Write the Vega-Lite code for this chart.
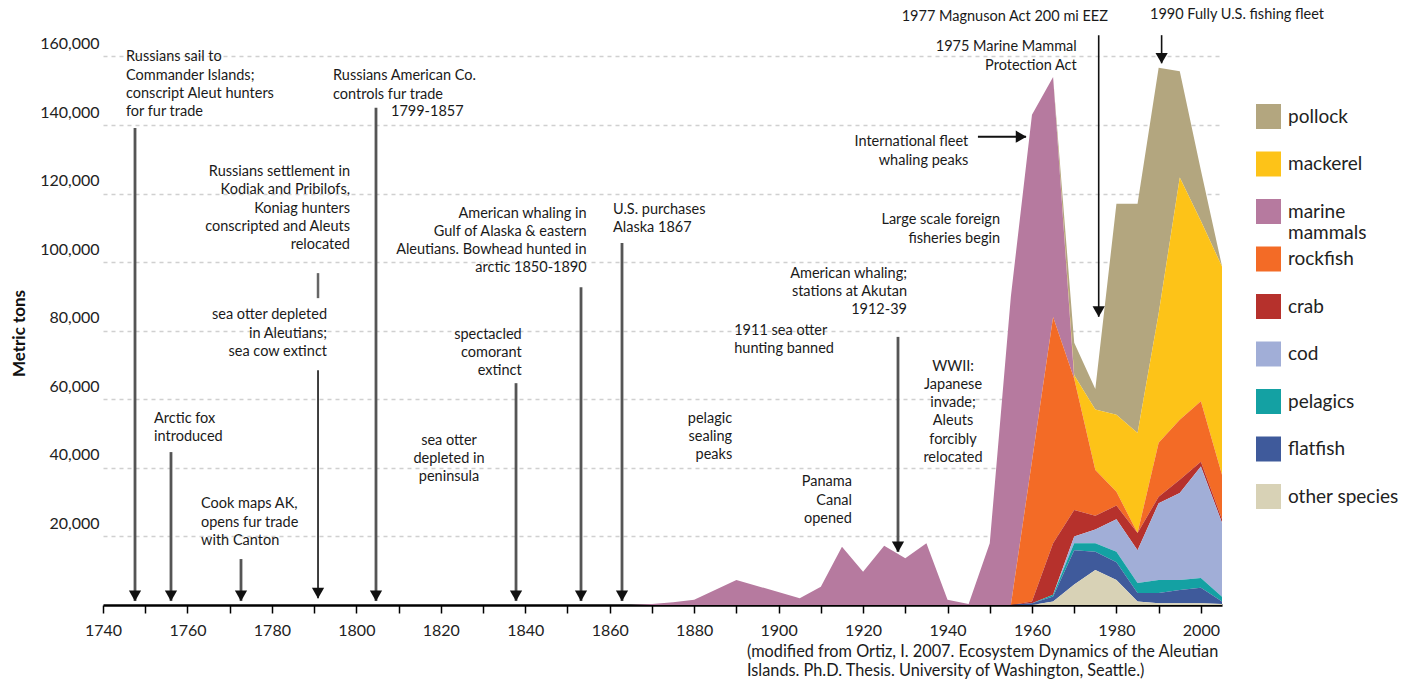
{
  "$schema": "https://vega.github.io/schema/vega-lite/v6.json",
  "width": 1119,
  "height": 600,
  "autosize": {"type": "none"},
  "padding": {"left": 103, "top": 5, "right": 199, "bottom": 83},
  "background": "white",
  "config": {"view": {"stroke": null}, "font": "Lato"},
  "datasets": {
    "catch": [
      {"year": 1740, "pollock": 0, "mackerel": 0, "marine mammals": 0, "rockfish": 0, "crab": 0, "cod": 0, "pelagics": 0, "flatfish": 0, "other species": 0},
      {"year": 1865, "pollock": 0, "mackerel": 0, "marine mammals": 0, "rockfish": 0, "crab": 0, "cod": 0, "pelagics": 0, "flatfish": 0, "other species": 0},
      {"year": 1870, "pollock": 0, "mackerel": 0, "marine mammals": 300, "rockfish": 0, "crab": 0, "cod": 0, "pelagics": 0, "flatfish": 0, "other species": 0},
      {"year": 1875, "pollock": 0, "mackerel": 0, "marine mammals": 800, "rockfish": 0, "crab": 0, "cod": 0, "pelagics": 0, "flatfish": 0, "other species": 0},
      {"year": 1880, "pollock": 0, "mackerel": 0, "marine mammals": 1500, "rockfish": 0, "crab": 0, "cod": 0, "pelagics": 0, "flatfish": 0, "other species": 0},
      {"year": 1890, "pollock": 0, "mackerel": 0, "marine mammals": 7300, "rockfish": 0, "crab": 0, "cod": 0, "pelagics": 0, "flatfish": 0, "other species": 0},
      {"year": 1905, "pollock": 0, "mackerel": 0, "marine mammals": 2000, "rockfish": 0, "crab": 0, "cod": 0, "pelagics": 0, "flatfish": 0, "other species": 0},
      {"year": 1910, "pollock": 0, "mackerel": 0, "marine mammals": 5300, "rockfish": 0, "crab": 0, "cod": 0, "pelagics": 0, "flatfish": 0, "other species": 0},
      {"year": 1915, "pollock": 0, "mackerel": 0, "marine mammals": 17000, "rockfish": 0, "crab": 0, "cod": 0, "pelagics": 0, "flatfish": 0, "other species": 0},
      {"year": 1920, "pollock": 0, "mackerel": 0, "marine mammals": 9700, "rockfish": 0, "crab": 0, "cod": 0, "pelagics": 0, "flatfish": 0, "other species": 0},
      {"year": 1925, "pollock": 0, "mackerel": 0, "marine mammals": 17300, "rockfish": 0, "crab": 0, "cod": 0, "pelagics": 0, "flatfish": 0, "other species": 0},
      {"year": 1930, "pollock": 0, "mackerel": 0, "marine mammals": 13600, "rockfish": 0, "crab": 0, "cod": 0, "pelagics": 0, "flatfish": 0, "other species": 0},
      {"year": 1935, "pollock": 0, "mackerel": 0, "marine mammals": 18000, "rockfish": 0, "crab": 0, "cod": 0, "pelagics": 0, "flatfish": 0, "other species": 0},
      {"year": 1940, "pollock": 0, "mackerel": 0, "marine mammals": 1500, "rockfish": 0, "crab": 0, "cod": 0, "pelagics": 0, "flatfish": 0, "other species": 0},
      {"year": 1945, "pollock": 0, "mackerel": 0, "marine mammals": 300, "rockfish": 0, "crab": 0, "cod": 0, "pelagics": 0, "flatfish": 0, "other species": 0},
      {"year": 1950, "pollock": 0, "mackerel": 0, "marine mammals": 18000, "rockfish": 0, "crab": 0, "cod": 0, "pelagics": 0, "flatfish": 0, "other species": 0},
      {"year": 1955, "pollock": 0, "mackerel": 0, "marine mammals": 90000, "rockfish": 0, "crab": 0, "cod": 0, "pelagics": 0, "flatfish": 0, "other species": 0},
      {"year": 1960, "pollock": 0, "mackerel": 0, "marine mammals": 101000, "rockfish": 41000, "crab": 500, "cod": 0, "pelagics": 0, "flatfish": 500, "other species": 0},
      {"year": 1965, "pollock": 0, "mackerel": 0, "marine mammals": 70000, "rockfish": 66000, "crab": 15000, "cod": 0, "pelagics": 500, "flatfish": 1500, "other species": 1000},
      {"year": 1970, "pollock": 9500, "mackerel": 1000, "marine mammals": 0, "rockfish": 38300, "crab": 7700, "cod": 2000, "pelagics": 2000, "flatfish": 10000, "other species": 6000},
      {"year": 1975, "pollock": 6000, "mackerel": 17600, "marine mammals": 0, "rockfish": 13400, "crab": 4000, "cod": 4000, "pelagics": 2500, "flatfish": 5300, "other species": 10200},
      {"year": 1980, "pollock": 61500, "mackerel": 22500, "marine mammals": 0, "rockfish": 4000, "crab": 4000, "cod": 9500, "pelagics": 3000, "flatfish": 5200, "other species": 7300},
      {"year": 1985, "pollock": 66800, "mackerel": 29200, "marine mammals": 0, "rockfish": 0, "crab": 5000, "cod": 9600, "pelagics": 2900, "flatfish": 2500, "other species": 1000},
      {"year": 1990, "pollock": 71700, "mackerel": 37700, "marine mammals": 0, "rockfish": 15700, "crab": 1900, "cod": 22400, "pelagics": 3800, "flatfish": 3000, "other species": 500},
      {"year": 1995, "pollock": 31000, "mackerel": 70700, "marine mammals": 0, "rockfish": 17500, "crab": 3800, "cod": 25400, "pelagics": 2900, "flatfish": 3900, "other species": 500},
      {"year": 2000, "pollock": 14800, "mackerel": 52600, "marine mammals": 0, "rockfish": 17600, "crab": 1400, "cod": 32500, "pelagics": 2900, "flatfish": 4500, "other species": 500},
      {"year": 2005, "pollock": 100, "mackerel": 60700, "marine mammals": 0, "rockfish": 13000, "crab": 1000, "cod": 21600, "pelagics": 1400, "flatfish": 700, "other species": 300}
    ],
    "arrowsThick": [
      {"year": 1747.58, "top": 139100, "tip": 1200},
      {"year": 1756.1, "top": 44600, "tip": 1200},
      {"year": 1772.68, "top": 13400, "tip": 1200},
      {"year": 1804.65, "top": 145000, "tip": 1200},
      {"year": 1837.81, "top": 64700, "tip": 1200},
      {"year": 1853.2, "top": 92700, "tip": 1200},
      {"year": 1862.91, "top": 105600, "tip": 1200},
      {"year": 1928.27, "top": 78200, "tip": 15500}
    ],
    "arrowsThin": [
      {"year": 1790.92, "top": 68500, "tip": 2000},
      {"year": 1975.8, "top": 166200, "tip": 84100},
      {"year": 1990.7, "top": 166200, "tip": 158000}
    ],
    "bars": [
      {"year": 1790.92, "top": 96800, "tip": 89500}
    ],
    "harrow": [
      {"from": 1947.2, "to": 1958.6, "value": 136600}
    ],
    "notesLeft": [
      {"year": 1745.45, "value": 161800, "text": "Russians sail to\nCommander Islands;\nconscript Aleut hunters\nfor fur trade"},
      {"year": 1752.08, "value": 56400, "text": "Arctic fox\nintroduced"},
      {"year": 1763.21, "value": 31400, "text": "Cook maps AK,\nopens fur trade\nwith Canton"},
      {"year": 1794.47, "value": 156200, "text": "Russians American Co.\ncontrols fur trade"},
      {"year": 1808.2, "value": 145800, "text": "1799-1857"},
      {"year": 1860.78, "value": 117200, "text": "U.S. purchases\nAlaska 1867"},
      {"year": 1889.48, "value": 82100, "text": "1911 sea otter\nhunting banned"},
      {"year": 1987.95, "value": 174000, "text": "1990 Fully U.S. fishing fleet"}
    ],
    "notesRight": [
      {"year": 1798.49, "value": 128300, "text": "Russians settlement in\nKodiak and Pribilofs,\nKoniag hunters\nconscripted and Aleuts\nrelocated"},
      {"year": 1793.05, "value": 86500, "text": "sea otter depleted\nin Aleutians;\nsea cow extinct"},
      {"year": 1854.55, "value": 116200, "text": "American whaling in\nGulf of Alaska & eastern\nAleutians. Bowhead hunted in\narctic 1850-1890"},
      {"year": 1839.15, "value": 80900, "text": "spectacled\ncomorant\nextinct"},
      {"year": 1889.0, "value": 56400, "text": "pelagic\nsealing\npeaks"},
      {"year": 1930.4, "value": 98700, "text": "American whaling;\nstations at Akutan\n1912-39"},
      {"year": 1917.35, "value": 37800, "text": "Panama\nCanal\nopened"},
      {"year": 1952.43, "value": 114200, "text": "Large scale foreign\nfisheries begin"},
      {"year": 1944.92, "value": 137000, "text": "International fleet\nwhaling peaks"},
      {"year": 1970.59, "value": 164700, "text": "1975 Marine Mammal\nProtection Act"},
      {"year": 1978.0, "value": 173400, "text": "1977 Magnuson Act 200 mi EEZ"}
    ],
    "notesCenter": [
      {"year": 1821.94, "value": 50000, "text": "sea  otter\ndepleted in\npeninsula"},
      {"year": 1941.3, "value": 71600, "text": "WWII:\nJapanese\ninvade;\nAleuts\nforcibly\nrelocated"}
    ],
    "source": [
      {"year": 1892.51, "value": -11500, "text": "(modified from Ortiz, I. 2007. Ecosystem Dynamics of the Aleutian\nIslands. Ph.D. Thesis. University of Washington, Seattle.)"}
    ]
  },
  "layer": [
    {
      "data": {"name": "catch"},
      "transform": [
        {"fold": ["pollock", "mackerel", "marine mammals", "rockfish", "crab", "cod", "pelagics", "flatfish", "other species"], "as": ["species", "tons"]},
        {"calculate": "indexof(['other species','flatfish','pelagics','cod','crab','rockfish','marine mammals','mackerel','pollock'], datum.species)", "as": "rank"}
      ],
      "mark": {"type": "area", "interpolate": "linear", "opacity": 1},
      "encoding": {
        "x": {
          "field": "year", "type": "quantitative",
          "scale": {"domain": [1740, 2005], "nice": false, "zero": false},
          "axis": {
            "title": null,
            "values": [1740, 1750, 1760, 1770, 1780, 1790, 1800, 1810, 1820, 1830, 1840, 1850, 1860, 1870, 1880, 1890, 1900, 1910, 1920, 1930, 1940, 1950, 1960, 1970, 1980, 1990, 2000],
            "labelExpr": "datum.value % 20 === 0 ? format(datum.value, 'd') : ''",
            "grid": false,
            "tickSize": 8, "tickColor": "#000", "tickWidth": 1.5,
            "domainColor": "#000", "domainWidth": 2.5,
            "labelFontSize": 16, "labelColor": "#222", "labelFont": "Lato",
            "labelPadding": 9, "labelFlush": false, "labelOverlap": false
          }
        },
        "y": {
          "field": "tons", "type": "quantitative", "stack": "zero",
          "scale": {"domain": [0, 175000], "nice": false},
          "axis": {
            "title": "Metric tons",
            "values": [20000, 40000, 60000, 80000, 100000, 120000, 140000, 160000],
            "labelExpr": "format(datum.value, ',')",
            "domain": false, "ticks": false,
            "grid": true, "gridColor": "#d0d0d0", "gridDash": [4, 4], "gridWidth": 1.5,
            "labelFontSize": 16, "labelColor": "#222", "labelFont": "Lato",
            "labelPadding": 4, "labelOffset": -13,
            "titleFontSize": 17, "titleFontWeight": "bold", "titleColor": "#111", "titleFont": "Lato",
            "titleX": -75, "titleY": 328
          }
        },
        "color": {
          "field": "species", "type": "nominal",
          "scale": {
            "domain": ["pollock", "mackerel", "marine mammals", "rockfish", "crab", "cod", "pelagics", "flatfish", "other species"],
            "range": ["#b3a67f", "#fdc318", "#b67a9f", "#f36b26", "#b6312c", "#a1aed7", "#14a1a3", "#3f5a9b", "#d8d2b6"]
          },
          "legend": {
            "orient": "none", "legendX": 1153, "legendY": 99,
            "title": null, "padding": 0,
            "symbolType": "square", "symbolSize": 625, "symbolStrokeWidth": 0, "symbolOpacity": 1,
            "labelFontSize": 19, "labelFont": "Lato", "labelColor": "#222",
            "labelOffset": 7, "labelLimit": 200,
            "rowPadding": 3.5, "gridAlign": "all",
            "labelExpr": "datum.label == 'marine mammals' ? ['marine', 'mammals'] : datum.label"
          }
        },
        "order": {"field": "rank", "type": "quantitative", "sort": "ascending"}
      }
    },
    {
      "data": {"name": "arrowsThick"},
      "mark": {"type": "rule", "color": "#555", "strokeWidth": 2.8},
      "encoding": {
        "x": {"field": "year", "type": "quantitative"},
        "y": {"field": "top", "type": "quantitative"},
        "y2": {"field": "tip"}
      }
    },
    {
      "data": {"name": "arrowsThick"},
      "mark": {"type": "point", "shape": "triangle-down", "filled": true, "color": "#111", "opacity": 1, "size": 150, "yOffset": -5},
      "encoding": {
        "x": {"field": "year", "type": "quantitative"},
        "y": {"field": "tip", "type": "quantitative"}
      }
    },
    {
      "data": {"name": "arrowsThin"},
      "mark": {"type": "rule", "color": "#111", "strokeWidth": 1.6},
      "encoding": {
        "x": {"field": "year", "type": "quantitative"},
        "y": {"field": "top", "type": "quantitative"},
        "y2": {"field": "tip"}
      }
    },
    {
      "data": {"name": "arrowsThin"},
      "mark": {"type": "point", "shape": "triangle-down", "filled": true, "color": "#111", "opacity": 1, "size": 150, "yOffset": -5},
      "encoding": {
        "x": {"field": "year", "type": "quantitative"},
        "y": {"field": "tip", "type": "quantitative"}
      }
    },
    {
      "data": {"name": "bars"},
      "mark": {"type": "rule", "color": "#666", "strokeWidth": 2.5},
      "encoding": {
        "x": {"field": "year", "type": "quantitative"},
        "y": {"field": "top", "type": "quantitative"},
        "y2": {"field": "tip"}
      }
    },
    {
      "data": {"name": "harrow"},
      "mark": {"type": "rule", "color": "#111", "strokeWidth": 2},
      "encoding": {
        "x": {"field": "from", "type": "quantitative"},
        "x2": {"field": "to"},
        "y": {"field": "value", "type": "quantitative"}
      }
    },
    {
      "data": {"name": "harrow"},
      "mark": {"type": "point", "shape": "triangle-right", "filled": true, "color": "#111", "opacity": 1, "size": 150, "xOffset": -5},
      "encoding": {
        "x": {"field": "to", "type": "quantitative"},
        "y": {"field": "value", "type": "quantitative"}
      }
    },
    {
      "data": {"name": "notesLeft"},
      "mark": {"type": "text", "align": "left", "baseline": "top", "lineBreak": "\n", "lineHeight": 18.3, "fontSize": 14.5, "font": "Lato", "color": "#1a1a1a"},
      "encoding": {
        "x": {"field": "year", "type": "quantitative"},
        "y": {"field": "value", "type": "quantitative"},
        "text": {"field": "text", "type": "nominal"}
      }
    },
    {
      "data": {"name": "notesRight"},
      "mark": {"type": "text", "align": "right", "baseline": "top", "lineBreak": "\n", "lineHeight": 18.3, "fontSize": 14.5, "font": "Lato", "color": "#1a1a1a"},
      "encoding": {
        "x": {"field": "year", "type": "quantitative"},
        "y": {"field": "value", "type": "quantitative"},
        "text": {"field": "text", "type": "nominal"}
      }
    },
    {
      "data": {"name": "notesCenter"},
      "mark": {"type": "text", "align": "center", "baseline": "top", "lineBreak": "\n", "lineHeight": 18.3, "fontSize": 14.5, "font": "Lato", "color": "#1a1a1a"},
      "encoding": {
        "x": {"field": "year", "type": "quantitative"},
        "y": {"field": "value", "type": "quantitative"},
        "text": {"field": "text", "type": "nominal"}
      }
    },
    {
      "data": {"name": "source"},
      "mark": {"type": "text", "align": "left", "baseline": "top", "lineBreak": "\n", "lineHeight": 19, "fontSize": 16.3, "font": "Lato", "color": "#1a1a1a"},
      "encoding": {
        "x": {"field": "year", "type": "quantitative"},
        "y": {"field": "value", "type": "quantitative"},
        "text": {"field": "text", "type": "nominal"}
      }
    }
  ]
}
